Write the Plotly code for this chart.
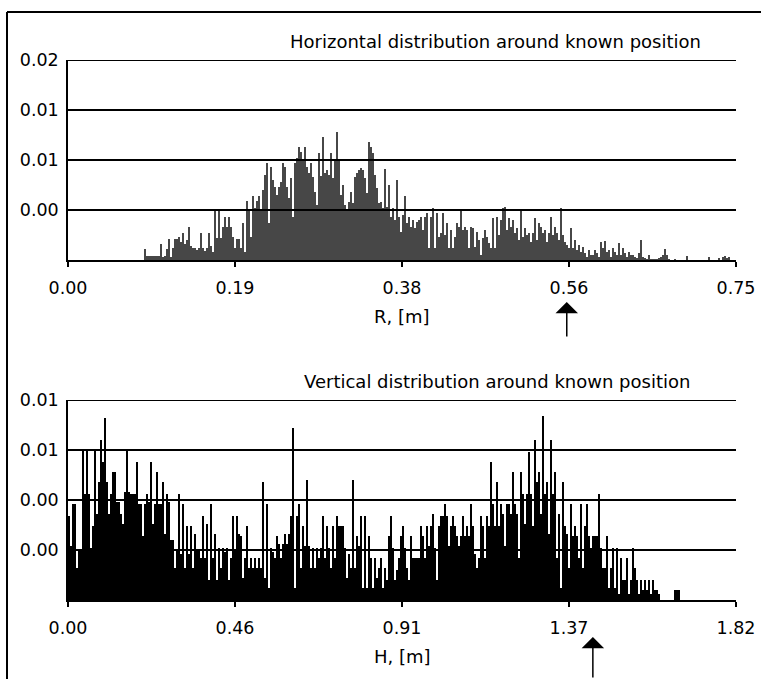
import plotly.graph_objects as go

# ---------------- data ----------------
N_BINS = 334
R_MAX = 0.75
H_MAX = 1.82

# Horizontal distribution (R, [m]); first non-empty bin index
r_first_bin = 38
r_values = [
    0.0011, 0.0004, 0.0004, 0.0004, 0.0004, 0.0004, 0.0004, 0.0004, 0.0016, 0.0003,
    0.0004, 0.0011, 0.0021, 0.0003, 0.0012, 0.0021, 0.0021, 0.0023, 0.0018, 0.0027,
    0.0016, 0.0020, 0.0033, 0.0014, 0.0012, 0.0012, 0.0010, 0.0012, 0.0027, 0.0012,
    0.0009, 0.0012, 0.0027, 0.0014, 0.0008, 0.0049, 0.0022, 0.0049, 0.0022, 0.0033,
    0.0043, 0.0033, 0.0043, 0.0033, 0.0023, 0.0012, 0.0021, 0.0021, 0.0012, 0.0037,
    0.0008, 0.0059, 0.0049, 0.0023, 0.0064, 0.0052, 0.0059, 0.0064, 0.0050, 0.0070,
    0.0085, 0.0097, 0.0037, 0.0093, 0.0080, 0.0073, 0.0065, 0.0073, 0.0078, 0.0097,
    0.0093, 0.0073, 0.0062,
    0.0082, 0.0043, 0.0097, 0.0102, 0.0113, 0.0108, 0.0100, 0.0113, 0.0093, 0.0087,
    0.0097, 0.0083, 0.0068, 0.0055, 0.0107, 0.0084, 0.0123, 0.0087, 0.0090, 0.0085,
    0.0107, 0.0082, 0.0100, 0.0128, 0.0100, 0.0065, 0.0075, 0.0055, 0.0051, 0.0058,
    0.0068, 0.0057, 0.0083, 0.0087, 0.0090, 0.0092, 0.0090, 0.0082, 0.0067, 0.0118,
    0.0113, 0.0107, 0.0085, 0.0072, 0.0057, 0.0058, 0.0052, 0.0091, 0.0053, 0.0075,
    0.0043, 0.0052, 0.0040, 0.0080, 0.0043, 0.0028, 0.0045, 0.0064, 0.0037, 0.0043,
    0.0033, 0.0040, 0.0032, 0.0038, 0.0040, 0.0043, 0.0030, 0.0043, 0.0047, 0.0012,
    0.0043, 0.0052, 0.0012, 0.0047, 0.0023, 0.0027, 0.0047,
    0.0025, 0.0037, 0.0012, 0.0030, 0.0012, 0.0023, 0.0037, 0.0033, 0.0049, 0.0030,
    0.0033, 0.0030, 0.0012, 0.0033, 0.0032, 0.0013, 0.0028, 0.0020, 0.0005, 0.0022,
    0.0030, 0.0023, 0.0017, 0.0012, 0.0042, 0.0012, 0.0043, 0.0025, 0.0040, 0.0052,
    0.0053, 0.0030, 0.0042, 0.0033, 0.0040, 0.0027, 0.0032, 0.0020, 0.0050, 0.0023,
    0.0032, 0.0025, 0.0027, 0.0018, 0.0027, 0.0042, 0.0020, 0.0037, 0.0033, 0.0027,
    0.0030, 0.0018, 0.0027, 0.0043, 0.0025, 0.0033, 0.0027, 0.0020, 0.0052, 0.0025,
    0.0018, 0.0015, 0.0012, 0.0032, 0.0012, 0.0020, 0.0010, 0.0015, 0.0008, 0.0013,
    0.0007, 0.0003, 0.0010, 0.0005, 0.0005, 0.0010, 0.0007, 0.0003,
    0.0018, 0.0012, 0.0019, 0.0008, 0.0010, 0.0003, 0.0012, 0.0008, 0.0005, 0.0017,
    0.0005, 0.0012, 0.0007, 0.0003, 0.0008, 0.0005, 0.0005, 0.0003, 0.0002, 0.0007,
    0.0020, 0.0003, 0.0002, 0.0001, 0.0005, 0.0001, 0.0001, 0.0001, 0.0001, 0.0002,
    0.0003, 0.0005, 0.0011, 0.0005, 0.0001, 0.0, 0.0, 0.0001, 0.0, 0.0,
    0.0, 0.0, 0.0, 0.0004, 0.0, 0.0, 0.0, 0.0, 0.0, 0.0,
    0.0, 0.0, 0.0, 0.0, 0.0003, 0.0, 0.0, 0.0, 0.0, 0.0002,
    0.0, 0.0003, 0.0004, 0.0002, 0.0003,
]

# Vertical distribution (H, [m]); first non-empty bin index
h_first_bin = 0
h_values = [
    0.0042, 0.0027, 0.0048, 0.0048, 0.0016, 0.0025, 0.0025, 0.0075, 0.0053, 0.0075,
    0.0053, 0.0026, 0.0037, 0.0075, 0.0043, 0.0059, 0.0080, 0.0069, 0.0091, 0.0059,
    0.0043, 0.0053, 0.0064, 0.0064, 0.0049, 0.0049, 0.0043, 0.0038, 0.0054, 0.0075,
    0.0054, 0.0053, 0.0053, 0.0053, 0.0069, 0.0048, 0.0048, 0.0032, 0.0048, 0.0053,
    0.0049, 0.0069, 0.0038, 0.0048, 0.0064, 0.0048, 0.0048, 0.0059, 0.0033, 0.0053,
    0.0049, 0.0030, 0.0030, 0.0016, 0.0025, 0.0053, 0.0023, 0.0048, 0.0016, 0.0037,
    0.0023, 0.0037, 0.0016, 0.0033, 0.0025, 0.0025, 0.0021, 0.0042, 0.0021, 0.0038,
    0.0010, 0.0048, 0.0021, 0.0033, 0.0010, 0.0026, 0.0016, 0.0026, 0.0024, 0.0026,
    0.0010, 0.0021, 0.0042, 0.0025,
    0.0042, 0.0033, 0.0032, 0.0011, 0.0021, 0.0037, 0.0016, 0.0021, 0.0016, 0.0021,
    0.0016, 0.0021, 0.0016, 0.0059, 0.0011, 0.0048, 0.0006, 0.0026, 0.0024, 0.0021,
    0.0032, 0.0028, 0.0021, 0.0028, 0.0033, 0.0028, 0.0033, 0.0042, 0.0086, 0.0006,
    0.0042, 0.0048, 0.0016, 0.0037, 0.0027, 0.0060, 0.0027, 0.0016, 0.0026, 0.0016,
    0.0026, 0.0021, 0.0026, 0.0042, 0.0021, 0.0037, 0.0026, 0.0016, 0.0037, 0.0021,
    0.0042, 0.0037, 0.0037, 0.0037, 0.0026, 0.0011, 0.0023, 0.0016, 0.0060, 0.0016,
    0.0032, 0.0027, 0.0042, 0.0006, 0.0042, 0.0006, 0.0032, 0.0021, 0.0006, 0.0021,
    0.0011, 0.0016, 0.0021, 0.0006, 0.0016, 0.0010, 0.0032, 0.0042, 0.0026, 0.0010,
    0.0015, 0.0021, 0.0032, 0.0037, 0.0026,
    0.0016, 0.0010, 0.0032, 0.0021, 0.0021, 0.0021, 0.0021, 0.0037, 0.0032, 0.0021,
    0.0037, 0.0027, 0.0037, 0.0043, 0.0026, 0.0010, 0.0037, 0.0042, 0.0042, 0.0048,
    0.0042, 0.0027, 0.0037, 0.0042, 0.0037, 0.0032, 0.0027, 0.0032, 0.0042, 0.0032,
    0.0037, 0.0032, 0.0048, 0.0037, 0.0023, 0.0016, 0.0021, 0.0042, 0.0037, 0.0021,
    0.0042, 0.0037, 0.0069, 0.0048, 0.0037, 0.0059, 0.0037, 0.0048, 0.0043, 0.0027,
    0.0048, 0.0048, 0.0043, 0.0064, 0.0048, 0.0043, 0.0021, 0.0064, 0.0053, 0.0038,
    0.0053, 0.0074, 0.0053, 0.0037, 0.0080, 0.0059, 0.0064, 0.0043, 0.0092, 0.0053,
    0.0059, 0.0033, 0.0080, 0.0053, 0.0064, 0.0021, 0.0043, 0.0006, 0.0059, 0.0037,
    0.0033, 0.0016, 0.0048, 0.0032, 0.0037,
    0.0032, 0.0021, 0.0048, 0.0016, 0.0037, 0.0048, 0.0032, 0.0026, 0.0032, 0.0032,
    0.0032, 0.0053, 0.0026, 0.0016, 0.0016, 0.0032, 0.0006, 0.0016, 0.0026, 0.0006,
    0.0026, 0.0003, 0.0021, 0.0010, 0.0010, 0.0021, 0.0003, 0.0010, 0.0026, 0.0016,
    0.0010, 0.0003, 0.0010, 0.0005, 0.0010, 0.0005, 0.0010, 0.0003, 0.0010, 0.0005,
    0.0005, 0.0003, 0.0, 0.0, 0.0, 0.0, 0.0, 0.0, 0.0, 0.0005,
    0.0005, 0.0005,
]

r_tickvals = [0.0, 0.1875, 0.375, 0.5625, 0.75]
r_ticktext = ["0.00", "0.19", "0.38", "0.56", "0.75"]
h_tickvals = [0.0, 0.455, 0.91, 1.365, 1.82]
h_ticktext = ["0.00", "0.46", "0.91", "1.37", "1.82"]
r_ytickvals = [0.005, 0.01, 0.015, 0.02]
r_yticktext = ["0.00", "0.01", "0.01", "0.02"]
h_ytickvals = [0.0025, 0.005, 0.0075, 0.01]
h_yticktext = ["0.00", "0.00", "0.01", "0.01"]
R_YMAX = 0.02
H_YMAX = 0.01

r_known = 0.56
h_known = 1.43

titles = ["Horizontal distribution around known position",
          "Vertical distribution around known position"]
xlabels = ["R, [m]", "H, [m]"]

# ---------------- figure ----------------
W, H = 761, 679
FONT = "DejaVu Sans"

r_w = R_MAX / N_BINS
h_w = H_MAX / N_BINS
r_x = [(r_first_bin + i + 0.5) * r_w for i in range(len(r_values))]
h_x = [(h_first_bin + i + 0.5) * h_w for i in range(len(h_values))]


def px(xp):
    return xp / W


def py(yp):
    return (H - yp) / H


fig = go.Figure()
fig.add_trace(go.Bar(x=r_x, y=r_values, width=r_w, marker=dict(color="#474747", line=dict(width=0)),
                     xaxis="x", yaxis="y", showlegend=False, hoverinfo="skip"))
fig.add_trace(go.Bar(x=h_x, y=h_values, width=h_w, marker=dict(color="#000000", line=dict(width=0)),
                     xaxis="x2", yaxis="y2", showlegend=False, hoverinfo="skip"))

xdom = [px(68), px(736)]
tickfont = dict(family=FONT, size=17.5, color="black")

common_x = dict(domain=xdom, showline=True, linecolor="black", linewidth=2, ticks="outside",
                ticklen=5, tickwidth=1.5, tickcolor="black", showgrid=False, zeroline=False,
                tickfont=tickfont, ticklabelstandoff=6, fixedrange=True, automargin=False)
common_y = dict(showline=True, linecolor="black", linewidth=1.5, ticks="", showgrid=False,
                zeroline=False, tickfont=tickfont, ticklabelstandoff=4, fixedrange=True,
                automargin=False)

fig.update_layout(
    width=W, height=H, autosize=False, margin=dict(l=0, r=0, t=0, b=0, pad=0),
    paper_bgcolor="white", plot_bgcolor="white", bargap=0, barmode="overlay",
    showlegend=False,
    font=dict(family=FONT, color="black"),
    xaxis=dict(common_x, anchor="y", range=[0, R_MAX], tickvals=r_tickvals, ticktext=r_ticktext),
    yaxis=dict(common_y, anchor="x", domain=[py(260), py(60)], range=[0, R_YMAX],
               tickvals=r_ytickvals, ticktext=r_yticktext),
    xaxis2=dict(common_x, anchor="y2", range=[0, H_MAX], tickvals=h_tickvals, ticktext=h_ticktext),
    yaxis2=dict(common_y, anchor="x2", domain=[py(600), py(400)], range=[0, H_YMAX],
                tickvals=h_ytickvals, ticktext=h_yticktext),
)

shapes = []
for v in r_ytickvals:
    shapes.append(dict(type="line", xref="x domain", yref="y", x0=0, x1=1, y0=v, y1=v,
                       line=dict(color="black", width=1.8), layer="above"))
for v in h_ytickvals:
    shapes.append(dict(type="line", xref="x2 domain", yref="y2", x0=0, x1=1, y0=v, y1=v,
                       line=dict(color="black", width=1.8), layer="above"))
# outer frame (left and top edges)
shapes.append(dict(type="line", xref="paper", yref="paper", x0=px(7), x1=px(7), y0=0, y1=py(12),
                   line=dict(color="black", width=2)))
shapes.append(dict(type="line", xref="paper", yref="paper", x0=px(7), x1=1, y0=py(12), y1=py(12),
                   line=dict(color="black", width=2)))
fig.update_layout(shapes=shapes)

tfont = dict(family=FONT, size=18, color="black")
ann = [
    dict(text=titles[0], xref="paper", yref="paper", x=px(496), y=py(41), showarrow=False,
         xanchor="center", yanchor="middle", font=tfont),
    dict(text=titles[1], xref="paper", yref="paper", x=px(497), y=py(381), showarrow=False,
         xanchor="center", yanchor="middle", font=tfont),
    dict(text=xlabels[0], xref="x domain", yref="paper", x=0.5, y=py(316), showarrow=False,
         xanchor="center", yanchor="middle", font=tfont),
    dict(text=xlabels[1], xref="x2 domain", yref="paper", x=0.5, y=py(656), showarrow=False,
         xanchor="center", yanchor="middle", font=tfont),
    dict(text="", xref="x", yref="paper", x=r_known, y=py(302), showarrow=True,
         ax=0, ay=36, axref="pixel", ayref="pixel", arrowhead=1, arrowsize=2.5,
         arrowwidth=1.5, arrowcolor="black", standoff=0),
    dict(text="", xref="x2", yref="paper", x=h_known, y=py(637), showarrow=True,
         ax=0, ay=42, axref="pixel", ayref="pixel", arrowhead=1, arrowsize=2.5,
         arrowwidth=1.5, arrowcolor="black", standoff=0),
]
fig.update_layout(annotations=ann)

fig.write_html(
    "out.html",
    config={"displayModeBar": False, "responsive": False},
    post_script="document.body.style.margin='0';document.body.style.padding='0';",
)
